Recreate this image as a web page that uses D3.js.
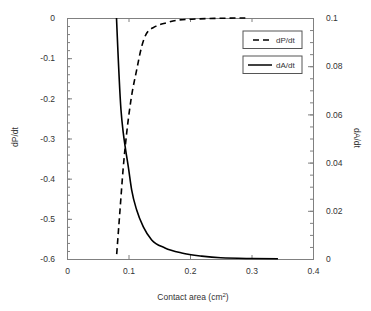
<!DOCTYPE html>
<html lang="en">
<head>
<meta charset="UTF-8">
<title>dP/dt and dA/dt</title>
<script src="https://cdn.jsdelivr.net/npm/d3@7"></script>
<style>
    body { margin: 0; background: #fff; }
    text { font-family: "Liberation Sans", Arial, sans-serif; }
</style>
</head>
<body>
<script>
    // contact area (cm^2) vs dP/dt
    var areaP = [0.0808, 0.0862, 0.0916, 0.097, 0.104, 0.1133, 0.1214, 0.1295, 0.143, 0.162, 0.181, 0.203, 0.24, 0.29];
    var dPdt = [-0.588, -0.478, -0.370, -0.287, -0.204, -0.129, -0.0714, -0.038, -0.0216, -0.0117, -0.005, -0.003, -0.001, 0];
    // contact area (cm^2) vs dA/dt
    var areaA = [0.0805, 0.0878, 0.0915, 0.0954, 0.0997, 0.1052, 0.1133, 0.1241, 0.1377, 0.1593, 0.1865, 0.219, 0.25, 0.3, 0.343];
    var dAdt = [0.1, 0.0618, 0.0523, 0.0452, 0.0382, 0.0286, 0.0203, 0.0133, 0.0079, 0.0046, 0.0025, 0.0012, 0.0005, 0.0002, 0.0001];

    var xTicks = [0, 0.1, 0.2, 0.3, 0.4];
    var yLeftTicks = [0, -0.1, -0.2, -0.3, -0.4, -0.5, -0.6];
    var yRightTicks = [0, 0.02, 0.04, 0.06, 0.08, 0.1];
    var legendNames = ["dP/dt", "dA/dt"];

    var W = 371, H = 311;
    var m = { left: 67, right: 58, top: 18, bottom: 52 };
    var iw = W - m.left - m.right, ih = H - m.top - m.bottom;
    var axisCol = "#808080", textCol = "#333";

    // plain hyphen instead of unicode minus, like the original
    var fmt = function (p) {
        return function (d) { return d === 0 ? "0" : d3.format(p)(d).replace("\u2212", "-"); };
    };

    var svg = d3.select("body").append("svg")
        .attr("width", W)
        .attr("height", H);
    var g = svg.append("g")
        .attr("transform", "translate(" + m.left + "," + m.top + ")");

    var x = d3.scaleLinear().domain([0, 0.4]).range([0, iw]);
    var yL = d3.scaleLinear().domain([-0.6, 0]).range([ih, 0]);
    var yR = d3.scaleLinear().domain([0, 0.1]).range([ih, 0]);

    function styleAxis(sel) {
        sel.select(".domain").attr("stroke", axisCol);
        sel.selectAll(".tick line").attr("stroke", axisCol);
        sel.selectAll("text").attr("fill", textCol).style("font-size", "8.5px");
    }

    // minor ticks first
    g.append("g")
        .call(d3.axisLeft(yL).tickValues(d3.range(-0.6, 0.001, 0.02)).tickSize(-3).tickFormat(""))
        .call(styleAxis);
    g.append("g")
        .attr("transform", "translate(" + iw + ",0)")
        .call(d3.axisRight(yR).tickValues(d3.range(0, 0.1001, 0.005)).tickSize(-3).tickFormat(""))
        .call(styleAxis);

    // major axes
    g.append("g")
        .call(d3.axisLeft(yL).tickValues(yLeftTicks).tickSize(-5).tickPadding(12).tickFormat(fmt(".1f")))
        .call(styleAxis);
    g.append("g")
        .attr("transform", "translate(" + iw + ",0)")
        .call(d3.axisRight(yR).tickValues(yRightTicks).tickSize(-5).tickPadding(13).tickFormat(fmt(".2~f")))
        .call(styleAxis);
    g.append("g")
        .attr("transform", "translate(0," + ih + ")")
        .call(d3.axisBottom(x).tickValues(xTicks).tickSize(-4).tickPadding(9).tickFormat(fmt(".1f")))
        .call(styleAxis);
    g.append("g")
        .call(d3.axisTop(x).tickValues(xTicks).tickSize(-4).tickFormat(""))
        .call(styleAxis);

    // curves
    var lineP = d3.line().x((d, i) => x(areaP[i])).y(d => yL(d)).curve(d3.curveMonotoneX);
    var lineA = d3.line().x((d, i) => x(areaA[i])).y(d => yR(d)).curve(d3.curveMonotoneX);

    g.append("path")
        .datum(dPdt)
        .attr("d", lineP)
        .attr("fill", "none")
        .attr("stroke", "#000")
        .attr("stroke-width", 1.6)
        .attr("stroke-dasharray", "6,4");
    g.append("path")
        .datum(dAdt)
        .attr("d", lineA)
        .attr("fill", "none")
        .attr("stroke", "#000")
        .attr("stroke-width", 1.6);

    // legend boxes
    var leg = svg.selectAll(".leg")
        .data(legendNames)
        .enter().append("g")
        .attr("class", "leg")
        .attr("transform", (d, i) => "translate(243," + (31 + i * 25) + ")");
    leg.append("rect")
        .attr("width", 59).attr("height", 17.5)
        .attr("fill", "#fff").attr("stroke", "#555").attr("stroke-width", 1);
    leg.append("line")
        .attr("x1", (d, i) => i === 0 ? 10 : 5).attr("x2", 29)
        .attr("y1", 9).attr("y2", 9)
        .attr("stroke", "#000").attr("stroke-width", 1.5)
        .attr("stroke-dasharray", (d, i) => i === 0 ? "6,4" : null);
    leg.append("text")
        .attr("x", 33).attr("y", 12)
        .attr("fill", textCol)
        .style("font-size", "8px")
        .text(d => d);

    // axis titles
    svg.append("text")
        .attr("transform", "translate(18,137) rotate(-90)")
        .attr("text-anchor", "middle")
        .attr("fill", textCol).style("font-size", "8.5px")
        .text("dP/dt");
    svg.append("text")
        .attr("transform", "translate(354,138) rotate(90)")
        .attr("text-anchor", "middle")
        .attr("fill", textCol).style("font-size", "8.5px")
        .text("dA/dt");
    var xt = svg.append("text")
        .attr("x", 193).attr("y", 300)
        .attr("text-anchor", "middle")
        .attr("fill", textCol).style("font-size", "8.5px");
    xt.append("tspan").text("Contact area (cm");
    xt.append("tspan").attr("dy", -3).style("font-size", "6px").text("2");
    xt.append("tspan").attr("dy", 3).text(")");
</script>
</body>
</html>
